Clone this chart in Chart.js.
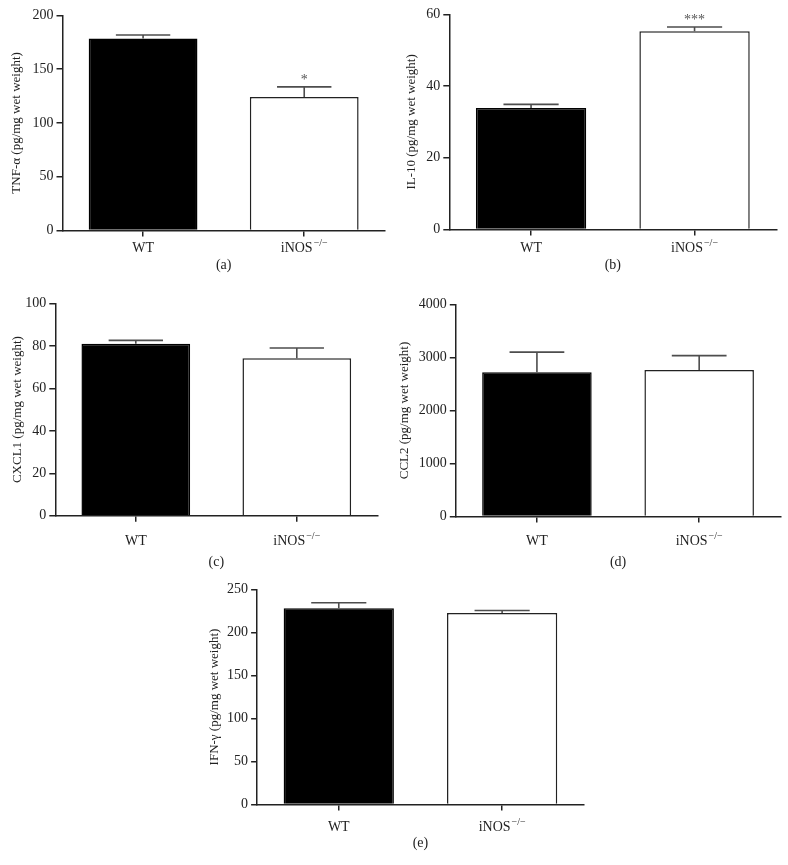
<!DOCTYPE html>
<html>
<head>
<meta charset="utf-8">
<script src="https://cdn.jsdelivr.net/npm/chart.js@4"></script>
<style>
  html, body { margin: 0; padding: 0; background: #fff; }
  body { width: 788px; height: 865px; position: relative; overflow: hidden; }
  canvas { position: absolute; }
</style>
</head>
<body>
<script>
// ---- Data ----
const categories = ['WT', 'iNOS'];
const categorySup = ['', '\u2212/\u2212'];
const barFill = ['#000000', '#ffffff'];

const tnfMean = [178.5, 124.0];
const tnfSem = [3.2, 9.5];
const tnfSig = ['', '*'];

const il10Mean = [33.9, 55.3];
const il10Sem = [1.0, 1.2];
const il10Sig = ['', '***'];

const cxcl1Mean = [81.0, 74.2];
const cxcl1Sem = [1.6, 4.8];
const cxcl1Sig = ['', ''];

const ccl2Mean = [2720, 2765];
const ccl2Sem = [380, 270];
const ccl2Sig = ['', ''];

const ifnMean = [228.0, 222.5];
const ifnSem = [6.5, 3.0];
const ifnSig = ['', ''];

const yTitles = [
  'TNF-\u03b1 (pg/mg wet weight)',
  'IL-10 (pg/mg wet weight)',
  'CXCL1 (pg/mg wet weight)',
  'CCL2 (pg/mg wet weight)',
  'IFN-\u03b3 (pg/mg wet weight)'
];
const yMaxes = [200, 60, 100, 4000, 250];
const ySteps = [50, 20, 20, 1000, 50];
const panelLetters = ['(a)', '(b)', '(c)', '(d)', '(e)'];

const means = [tnfMean, il10Mean, cxcl1Mean, ccl2Mean, ifnMean];
const sems = [tnfSem, il10Sem, cxcl1Sem, ccl2Sem, ifnSem];
const sigs = [tnfSig, il10Sig, cxcl1Sig, ccl2Sig, ifnSig];

// ---- Layout (page pixel positions of each plot area) ----
const layouts = [
  { L: 62.7, R: 385, T: 14.3, B: 230.7, titleX: 17, xLabelY: 249, panelY: 265 },
  { L: 449, R: 776, T: 13.3, B: 229.7, titleX: 411.5, xLabelY: 249, panelY: 265 },
  { L: 55.5, R: 377.5, T: 301.7, B: 515.5, titleX: 18, xLabelY: 541, panelY: 562 },
  { L: 455.5, R: 780, T: 302.7, B: 516.3, titleX: 404.5, xLabelY: 541, panelY: 562 },
  { L: 257.3, R: 584, T: 587.7, B: 804.3, titleX: 215, xLabelY: 827, panelY: 843 }
];

const FONT = "'Liberation Serif', 'DejaVu Serif', serif";
const INK = '#222222';

const extrasPlugin = {
  id: 'extras',
  afterDatasetsDraw(chart, args, opts) {
    const ctx = chart.ctx;
    const meta = chart.getDatasetMeta(0);
    const y = chart.scales.y;
    const x = chart.scales.x;
    const area = chart.chartArea;
    ctx.save();
    meta.data.forEach((el, i) => {
      const top = y.getPixelForValue(opts.mean[i] + opts.sem[i]);
      const cw = el.width * 0.5;
      ctx.strokeStyle = '#4d4d4d';
      ctx.lineWidth = 1.6;
      ctx.beginPath();
      ctx.moveTo(el.x, el.y);
      ctx.lineTo(el.x, top);
      ctx.moveTo(el.x - cw / 2, top);
      ctx.lineTo(el.x + cw / 2, top);
      ctx.stroke();
      if (opts.sig[i]) {
        ctx.fillStyle = '#555';
        ctx.font = '14px ' + FONT;
        ctx.textAlign = 'center';
        ctx.textBaseline = 'middle';
        ctx.fillText(opts.sig[i], el.x, top - 7);
      }
    });
    ctx.fillStyle = INK;
    ctx.textBaseline = 'middle';
    ctx.textAlign = 'left';
    categories.forEach((lab, i) => {
      const cx = x.getPixelForValue(i);
      ctx.font = '14px ' + FONT;
      const w1 = ctx.measureText(lab).width;
      ctx.font = '10px ' + FONT;
      const w2 = categorySup[i] ? ctx.measureText(categorySup[i]).width + 1 : 0;
      const start = cx - (w1 + w2) / 2;
      const ly = area.bottom + opts.labelOffset;
      ctx.font = '14px ' + FONT;
      ctx.fillText(lab, start, ly);
      if (categorySup[i]) {
        ctx.font = '10px ' + FONT;
        ctx.fillText(categorySup[i], start + w1 + 1, ly - 5);
      }
    });
    ctx.restore();
  }
};

layouts.forEach((lay, p) => {
  const canvasLeft = lay.titleX - 9.8;
  const canvasTop = lay.T - 10;
  const cw = Math.ceil(lay.R + 10 - canvasLeft);
  const ch = Math.ceil(lay.panelY + 10.4 - canvasTop);
  const padRight = canvasLeft + cw - lay.R;
  const yw = lay.L - canvasLeft;
  const xh = canvasTop + ch - lay.B;

  const cv = document.createElement('canvas');
  cv.width = cw;
  cv.height = ch;
  cv.style.left = canvasLeft + 'px';
  cv.style.top = canvasTop + 'px';
  cv.style.width = cw + 'px';
  cv.style.height = ch + 'px';
  document.body.appendChild(cv);

  new Chart(cv, {
    type: 'bar',
    data: {
      labels: categories.map((c, i) => c + categorySup[i]),
      datasets: [{
        data: means[p],
        backgroundColor: barFill,
        borderColor: ['#000000', INK],
        borderWidth: 1.5,
        borderSkipped: 'start',
        barPercentage: 0.675,
        categoryPercentage: 1.0
      }]
    },
    options: {
      responsive: false,
      animation: false,
      devicePixelRatio: 1,
      layout: { padding: { top: 10, right: padRight, left: 0, bottom: 0 } },
      plugins: {
        legend: { display: false },
        tooltip: { enabled: false },
        extras: {
          mean: means[p],
          sem: sems[p],
          sig: sigs[p],
          labelOffset: lay.xLabelY - lay.B
        }
      },
      scales: {
        x: {
          type: 'category',
          offset: true,
          afterFit: s => { s.height = xh; },
          grid: { offset: false, drawOnChartArea: false, drawTicks: true, tickLength: 6, color: INK, lineWidth: 1.5 },
          border: { display: true, color: INK, width: 1.5 },
          ticks: { display: false },
          title: {
            display: true,
            text: panelLetters[p],
            color: INK,
            font: { family: FONT, size: 14 },
            padding: { top: 0, bottom: 2 }
          }
        },
        y: {
          min: 0,
          max: yMaxes[p],
          afterFit: s => { s.width = yw; },
          grid: { drawOnChartArea: false, drawTicks: true, tickLength: 6, color: INK, lineWidth: 1.5 },
          border: { display: true, color: INK, width: 1.5 },
          ticks: {
            stepSize: ySteps[p],
            color: INK,
            padding: 3,
            font: { family: FONT, size: 14 },
            callback: v => String(v)
          },
          title: {
            display: true,
            text: yTitles[p],
            color: INK,
            font: { family: FONT, size: 13 },
            padding: { top: 2, bottom: 0 }
          }
        }
      }
    },
    plugins: [extrasPlugin]
  });
});
</script>
</body>
</html>
